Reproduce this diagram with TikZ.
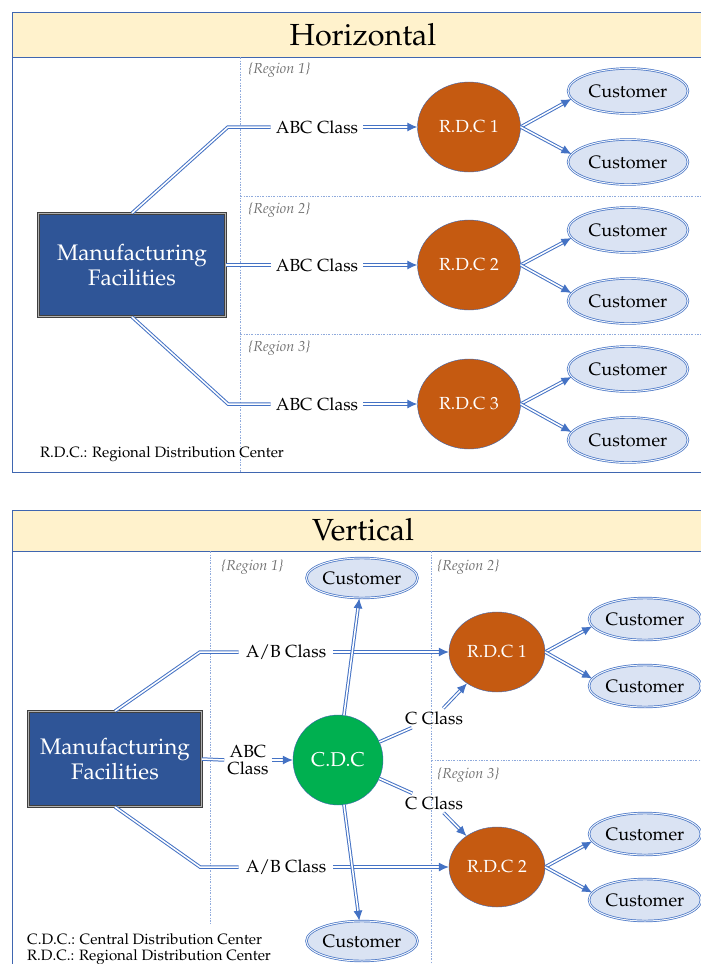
\documentclass[tikz,border=0pt]{standalone}
\usepackage[T1]{fontenc}
\usepackage{mathpazo}
\usetikzlibrary{arrows.meta,positioning,shapes.geometric}

\definecolor{framecol}{HTML}{3F66B0}
\definecolor{titlefill}{HTML}{FFF2CC}
\definecolor{linkcol}{HTML}{4472C4}
\definecolor{regcol}{HTML}{8FAADC}
\definecolor{plantfill}{HTML}{2F5597}
\definecolor{rdcfill}{HTML}{C55A11}
\definecolor{cdcfill}{HTML}{00B050}
\definecolor{custfill}{HTML}{DAE3F3}

\begin{document}
\begin{tikzpicture}[x=1pt, y=-1pt,
    link/.style={draw=linkcol, double=white, double distance=1.5pt, line width=1pt},
    linkarrow/.style={link, -{Latex[length=10pt,width=9pt]}},
    regline/.style={draw=regcol, line width=0.7pt, dash pattern=on 2pt off 1.5pt on 0.5pt off 1.5pt},
    regtext/.style={anchor=west, text=black!55, font=\itshape\fontsize{14.5}{16}\selectfont},
    plant/.style={rectangle, draw=black!75, double=gray!60, double distance=1.2pt, line width=0.8pt,
        fill=plantfill, text=white, align=center, inner sep=0pt, font=\fontsize{22.5}{27}\selectfont},
    rdc/.style={ellipse, draw=framecol, fill=rdcfill, text=white, inner sep=0pt, font=\fontsize{17.5}{20}\selectfont},
    cdc/.style={circle, draw=framecol, fill=cdcfill, text=white, inner sep=0pt, minimum size=90pt, font=\fontsize{20}{22}\selectfont},
    cust/.style={ellipse, draw=linkcol, double=custfill!40!white, double distance=1pt, line width=0.7pt,
        fill=custfill, inner sep=0pt, font=\fontsize{18}{20}\selectfont},
    cls/.style={inner sep=5pt, align=center, font=\fontsize{17.5}{20}\selectfont},
    legend/.style={anchor=west, inner sep=0pt, font=\fontsize{15}{18}\selectfont}]

    \useasboundingbox (0,0) rectangle (701,964);
    \clip (0,0) rectangle (701,964);

    % Horizontal panel
    \draw[framecol, line width=1pt] (12,12) rectangle (720,472);
    \draw[framecol, line width=1pt, fill=titlefill] (12,12) rectangle (720,57);
    \node (htitle) at (363,35) {\fontsize{30.5}{34}\selectfont Horizontal};

    % Regions
    \draw[regline] (240,57) -- (240,472);
    \draw[regline] (240,196) -- (720,196);
    \draw[regline] (240,334) -- (720,334);
    \node[regtext] (hreg1) at (245,70) {\{Region 1\}};
    \node[regtext] (hreg2) at (245,210) {\{Region 2\}};
    \node[regtext] (hreg3) at (245,348) {\{Region 3\}};

    % Nodes
    \node[plant, minimum width=187pt, minimum height=103pt] (hmf) at (132,265) {Manufacturing\\[-2pt]Facilities};
    \node[cls] (habc1) at (317,127) {ABC Class};
    \node[cls] (habc2) at (317,265) {ABC Class};
    \node[cls] (habc3) at (317,404) {ABC Class};
    \node[rdc, minimum width=103pt, minimum height=90pt] (hrdc1) at (469,127) {R.D.C 1};
    \node[rdc, minimum width=103pt, minimum height=90pt] (hrdc2) at (469,265) {R.D.C 2};
    \node[rdc, minimum width=103pt, minimum height=90pt] (hrdc3) at (469,404) {R.D.C 3};
    \node[cust, minimum width=120pt, minimum height=45pt] (hc11) at (628,91) {Customer};
    \node[cust, minimum width=120pt, minimum height=45pt] (hc12) at (628,162) {Customer};
    \node[cust, minimum width=120pt, minimum height=45pt] (hc21) at (628,230) {Customer};
    \node[cust, minimum width=120pt, minimum height=45pt] (hc22) at (628,301) {Customer};
    \node[cust, minimum width=120pt, minimum height=45pt] (hc31) at (628,369) {Customer};
    \node[cust, minimum width=120pt, minimum height=45pt] (hc32) at (628,440) {Customer};
    \coordinate (hb1) at (228,127);
    \coordinate (hb3) at (228,404);

    % Links
    \draw[link] (hmf.north) -- (hb1) -- (habc1.west);
    \draw[link] (hmf.east) -- (habc2.west);
    \draw[link] (hmf.south) -- (hb3) -- (habc3.west);
    \foreach \i in {1,2,3} {
        \draw[linkarrow] (habc\i.east) -- (hrdc\i.west);
        \draw[linkarrow] (hrdc\i.east) -- (hc\i1.188);
        \draw[linkarrow] (hrdc\i.east) -- (hc\i2.172);
    }
    \node[legend] (hleg) at (40,454) {R.D.C.: Regional Distribution Center};

    % Vertical panel
    \draw[framecol, line width=1pt] (12,510) rectangle (720,980);
    \draw[framecol, line width=1pt, fill=titlefill] (12,510) rectangle (720,551);
    \node (vtitle) at (363,530) {\fontsize{30.5}{34}\selectfont Vertical};

    % Regions
    \draw[regline] (210,551) -- (210,925);
    \draw[regline] (431,551) -- (431,964);
    \draw[regline] (431,760) -- (720,760);
    \node[regtext] (vreg1) at (218,567) {\{Region 1\}};
    \node[regtext] (vreg2) at (434,567) {\{Region 2\}};
    \node[regtext] (vreg3) at (434,775) {\{Region 3\}};

    % Nodes
    \node[plant, minimum width=173pt, minimum height=95pt] (vmf) at (115,759) {Manufacturing\\[-2pt]Facilities};
    \node[cls, inner sep=7pt] (vab1) at (286,652) {A/B Class};
    \node[cls, inner sep=3pt] (vabc) at (248,760) {ABC\\[-3pt]Class};
    \node[cls, inner sep=7pt] (vab2) at (286,867) {A/B Class};
    \node[cdc] (cdc) at (338,760) {C.D.C};
    \node[cls, inner sep=3pt] (vc1) at (434,718) {C Class};
    \node[cls, inner sep=3pt] (vc2) at (434,803) {C Class};
    \node[rdc, minimum width=96pt, minimum height=80pt] (vrdc1) at (497,652) {R.D.C 1};
    \node[rdc, minimum width=96pt, minimum height=80pt] (vrdc2) at (497,867) {R.D.C 2};
    \node[cust, minimum width=108pt, minimum height=40pt] (vct) at (362,578) {Customer};
    \node[cust, minimum width=108pt, minimum height=40pt] (vcb) at (362,941) {Customer};
    \node[cust, minimum width=112pt, minimum height=42pt] (vc11) at (645,619) {Customer};
    \node[cust, minimum width=112pt, minimum height=42pt] (vc12) at (645,686) {Customer};
    \node[cust, minimum width=112pt, minimum height=42pt] (vc21) at (645,834) {Customer};
    \node[cust, minimum width=112pt, minimum height=42pt] (vc22) at (645,900) {Customer};
    \coordinate (vb1) at (200,652);
    \coordinate (vb2) at (200,867);

    % Links
    \draw[link] (vmf.north) -- (vb1) -- (vab1.west);
    \draw[link] (vmf.south) -- (vb2) -- (vab2.west);
    \draw[link] (vmf.east) -- (vabc.west);
    \draw[linkarrow] (vabc.east) -- (cdc.west);
    \draw[linkarrow] (vab1.east) -- (vrdc1.west);
    \draw[linkarrow] (vab2.east) -- (vrdc2.west);
    \draw[linkarrow] (cdc) -- (vct);
    \draw[linkarrow] (cdc) -- (vcb);
    \draw[link] (cdc) -- (vc1);
    \draw[linkarrow] (vc1) -- (vrdc1);
    \draw[link] (cdc) -- (vc2);
    \draw[linkarrow] (vc2) -- (vrdc2);
    \foreach \i in {1,2} {
        \draw[linkarrow] (vrdc\i.east) -- (vc\i1.188);
        \draw[linkarrow] (vrdc\i.east) -- (vc\i2.172);
    }
    \node[legend] (vleg1) at (27,939) {C.D.C.: Central Distribution Center};
    \node[legend] (vleg2) at (27,957) {R.D.C.: Regional Distribution Center};
\end{tikzpicture}
\end{document}
